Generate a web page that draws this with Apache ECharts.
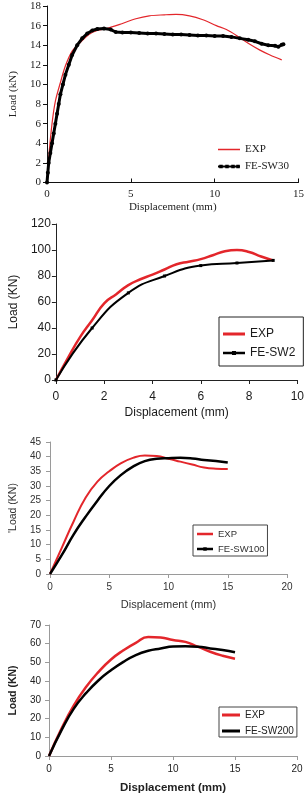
<!DOCTYPE html>
<html>
<head>
<meta charset="utf-8">
<script src="https://cdn.jsdelivr.net/npm/echarts@6/dist/echarts.min.js"></script>
<style>
html, body { margin: 0; padding: 0; background: #fff; }
#main { width: 307px; height: 796px; }
</style>
</head>
<body>
<div id="main"></div>
<script>
// panel 1 : FE-SW30
var sw30ExpX = [0, 0.1, 0.3, 0.5, 0.8, 1.1, 1.5, 2.0, 2.5, 3.0, 3.55, 4.3, 5.3, 6.1, 7.0, 7.7, 8.5, 9.3, 10.1, 10.7, 11.3, 12.0, 12.7, 13.3, 14.0];
var sw30ExpY = [0, 2.5, 6, 8.3, 10.2, 11.9, 13.4, 14.3, 15.1, 15.5, 15.7, 16.1, 16.7, 17.0, 17.1, 17.15, 17.0, 16.6, 16.0, 15.6, 15.0, 14.2, 13.5, 13.0, 12.5];
var sw30FeX = [0, 0.05, 0.1, 0.2, 0.3, 0.4, 0.5, 0.6, 0.7, 0.8, 0.95, 1.1, 1.3, 1.5, 1.8, 2.1, 2.4, 2.7, 3.0, 3.4, 3.8, 4.1, 4.5, 5.0, 5.5, 6.0, 6.5, 7.0, 7.5, 8.0, 8.5, 9.0, 9.5, 10.0, 10.5, 11.0, 11.5, 12.0, 12.4, 12.8, 13.2, 13.6, 13.8, 14.0, 14.1];
var sw30FeY = [0, 1, 2, 3, 4, 5, 6, 7, 8, 9, 10, 11, 12, 13, 14, 14.7, 15.2, 15.5, 15.65, 15.7, 15.6, 15.35, 15.3, 15.3, 15.25, 15.2, 15.2, 15.15, 15.1, 15.1, 15.05, 15.0, 15.0, 14.95, 14.95, 14.85, 14.7, 14.55, 14.4, 14.15, 14.0, 13.95, 13.85, 14.05, 14.1];

// panel 2 : FE-SW2
var sw2ExpX = [0, 0.5, 1, 1.5, 2, 2.5, 3, 3.5, 4, 4.5, 5, 5.5, 6, 6.5, 7, 7.5, 8, 8.5, 9];
var sw2ExpY = [0, 17, 33, 46, 59, 66, 73, 77.5, 81, 85, 89, 91, 93, 96, 99, 100, 98.5, 95, 92];
var sw2FeX = [0, 1.5, 3, 4.5, 6, 7.5, 9];
var sw2FeY = [0, 40, 67, 80, 88, 90, 92];

// panel 3 : FE-SW100
var sw100ExpX = [0, 1, 2, 3, 4, 5, 6, 7, 8, 9, 10, 11, 12, 13, 14, 15];
var sw100ExpY = [0, 9, 18, 26, 31.5, 35, 37.8, 39.6, 40.4, 40.2, 39.3, 38.3, 37.3, 36.3, 35.9, 35.8];
var sw100FeX = [0, 1, 2, 3, 4, 5, 6, 7, 8, 9, 10, 11, 12, 13, 14, 15];
var sw100FeY = [0, 6.5, 13.5, 19.5, 25, 30, 33.8, 36.6, 38.5, 39.3, 39.5, 39.6, 39.4, 38.9, 38.5, 38];

// panel 4 : FE-SW200
var sw200ExpX = [0, 1, 2, 3, 4, 5, 6, 7, 8, 9, 10, 11, 12, 13, 14, 15];
var sw200ExpY = [0, 14.5, 27, 37, 45, 51.6, 56.5, 60.5, 63.6, 63.3, 62, 61, 58.4, 55.7, 53.6, 52];
var sw200FeX = [0, 1, 2, 3, 4, 5, 6, 7, 8, 9, 10, 11, 12, 13, 14, 15];
var sw200FeY = [0, 13.7, 25.3, 33.7, 40.5, 45.8, 50.3, 53.9, 56.2, 57.4, 58.5, 58.6, 58.4, 57.5, 56.6, 55.4];

var serif = 'Liberation Serif';
var sans = 'Liberation Sans';
var red = '#e3262b';

// legend icons: a horizontal stroke (optionally with markers), corners pin the box size
function lineIcon(w, h, t, marker) {
    var y0 = (h - t) / 2;
    var p = 'path://M0,0H0.01V0.01H0Z M' + (w - 0.01) + ',' + (h - 0.01) + 'H' + w + 'V' + h + 'H' + (w - 0.01) + 'Z' +
        ' M0,' + y0 + 'H' + w + 'V' + (y0 + t) + 'H0Z';
    if (marker) {
        (marker.at || [w / 2]).forEach(function (cx) {
            var s = marker.size;
            p += ' M' + (cx - s / 2) + ',' + (h - s) / 2 + 'H' + (cx + s / 2) + 'V' + (h + s) / 2 + 'H' + (cx - s / 2) + 'Z';
        });
    }
    return p;
}

function pairs(xs, ys) {
    return xs.map(function (x, i) { return [x, ys[i]]; });
}

function xAxisOf(idx, max, step, font, size, nameSize, color, lineColor, gap, margin, bold, tickInside) {
    return {
        gridIndex: idx, type: 'value', min: 0, max: max, interval: step,
        name: 'Displacement (mm)', nameLocation: 'middle', nameGap: gap,
        nameTextStyle: { fontFamily: font, fontSize: nameSize, color: color, fontWeight: bold ? 'bold' : 'normal' },
        axisLine: { lineStyle: { color: lineColor, width: 1 } },
        axisTick: { show: true, inside: tickInside, length: 4, lineStyle: { color: lineColor } },
        axisLabel: { fontFamily: font, fontSize: size, color: color, margin: margin },
        splitLine: { show: false }
    };
}

function yAxisOf(idx, max, step, name, font, size, nameSize, color, lineColor, gap, margin, bold) {
    return {
        gridIndex: idx, type: 'value', min: 0, max: max, interval: step,
        name: name, nameLocation: 'middle', nameGap: gap,
        nameTextStyle: { fontFamily: font, fontSize: nameSize, color: color, fontWeight: bold ? 'bold' : 'normal' },
        axisLine: { show: true, lineStyle: { color: lineColor, width: 1 } },
        axisTick: { show: true, length: 4, lineStyle: { color: lineColor } },
        axisLabel: { fontFamily: font, fontSize: size, color: color, margin: margin },
        splitLine: { show: false }
    };
}

var myChart = echarts.init(document.getElementById('main'));
var option = {
    backgroundColor: '#fff',
    animation: false,
    grid: [
        { left: 47, top: 6, width: 253, height: 176.5 },
        { left: 47.5, top: 224, width: 252.5, height: 156 },
        { left: 44, top: 442, width: 243, height: 132 },
        { left: 42, top: 625, width: 255, height: 131 }
    ],
    xAxis: [
        xAxisOf(0, 15, 5, serif, 11, 11, '#222', '#111', 19, 6, false, true),
        xAxisOf(1, 10, 2, sans, 12, 12, '#1a1a1a', '#222', 27, 11, false, false),
        xAxisOf(2, 20, 5, sans, 10, 11, '#333', '#9a9a9a', 25, 8, false, false),
        xAxisOf(3, 20, 5, sans, 10, 11.5, '#222', '#9a9a9a', 26, 8, true, false)
    ],
    yAxis: [
        yAxisOf(0, 18, 2, 'Load (kN)', serif, 11, 11, '#222', '#111', 27, 6, false),
        yAxisOf(1, 120, 20, 'Load (KN)', sans, 12, 12, '#1a1a1a', '#222', 29, 5, false),
        yAxisOf(2, 45, 5, "'Load (KN)", sans, 10, 10.5, '#333', '#9a9a9a', 27, 9, false),
        yAxisOf(3, 70, 10, 'Load (KN)', sans, 10, 10.5, '#222', '#9a9a9a', 23, 8, true)
    ],
    legend: [
        {
            left: 213, top: 139, orient: 'vertical', itemWidth: 22, itemHeight: 6, itemGap: 6,
            data: [
                { name: 'EXP', icon: lineIcon(22, 6, 1.4), itemStyle: { color: red } },
                { name: 'FE-SW30', icon: lineIcon(22, 6, 2, { size: 3.5, at: [3, 9, 15, 20] }), itemStyle: { color: '#000' } }
            ],
            textStyle: { fontFamily: serif, fontSize: 11, color: '#222' }
        },
        {
            left: 219, top: 317, orient: 'vertical', itemWidth: 22, itemHeight: 10, itemGap: 7,
            padding: [11, 8, 7, 4], borderColor: '#222', borderWidth: 1,
            data: [
                { name: 'EXP', icon: lineIcon(22, 10, 3) },
                { name: 'FE-SW2', icon: lineIcon(22, 10, 2.5, { size: 4 }) }
            ],
            textStyle: { fontFamily: sans, fontSize: 12, color: '#1a1a1a' }
        },
        {
            left: 193, top: 525, orient: 'vertical', itemWidth: 16, itemHeight: 8, itemGap: 5,
            padding: [4, 3, 2, 4], borderColor: '#444', borderWidth: 1,
            data: [
                { name: 'EXP', icon: lineIcon(16, 8, 2.5) },
                { name: 'FE-SW100', icon: lineIcon(16, 8, 2.5, { size: 3.5 }) }
            ],
            textStyle: { fontFamily: sans, fontSize: 9.5, color: '#333' }
        },
        {
            left: 219, top: 707, orient: 'vertical', itemWidth: 18, itemHeight: 8, itemGap: 6,
            padding: [3, 3, 1, 3], borderColor: '#444', borderWidth: 1,
            data: [
                { name: 'EXP', icon: lineIcon(18, 8, 3) },
                { name: 'FE-SW200', icon: lineIcon(18, 8, 3) }
            ],
            textStyle: { fontFamily: sans, fontSize: 10, color: '#222' }
        }
    ],
    series: [
        {
            name: 'EXP', type: 'line', xAxisIndex: 0, yAxisIndex: 0,
            data: pairs(sw30ExpX, sw30ExpY), smooth: 0.3, symbol: 'none',
            lineStyle: { color: red, width: 1.2 }, itemStyle: { color: red }
        },
        {
            name: 'FE-SW30', type: 'line', xAxisIndex: 0, yAxisIndex: 0,
            data: pairs(sw30FeX, sw30FeY), symbol: 'circle', symbolSize: 4, showAllSymbol: true,
            lineStyle: { color: '#000', width: 3 }, itemStyle: { color: '#000' }
        },
        {
            name: 'EXP', type: 'line', xAxisIndex: 1, yAxisIndex: 1,
            data: pairs(sw2ExpX, sw2ExpY), smooth: true, symbol: 'none',
            lineStyle: { color: red, width: 2.5 }, itemStyle: { color: red }
        },
        {
            name: 'FE-SW2', type: 'line', xAxisIndex: 1, yAxisIndex: 1,
            data: pairs(sw2FeX, sw2FeY), smooth: true, symbol: 'rect', symbolSize: 3,
            lineStyle: { color: '#000', width: 2 }, itemStyle: { color: '#000' }
        },
        {
            name: 'EXP', type: 'line', xAxisIndex: 2, yAxisIndex: 2,
            data: pairs(sw100ExpX, sw100ExpY), smooth: true, symbol: 'none',
            lineStyle: { color: red, width: 2 }, itemStyle: { color: red }
        },
        {
            name: 'FE-SW100', type: 'line', xAxisIndex: 2, yAxisIndex: 2,
            data: pairs(sw100FeX, sw100FeY), smooth: true, symbol: 'none',
            lineStyle: { color: '#000', width: 2.5 }, itemStyle: { color: '#000' }
        },
        {
            name: 'EXP', type: 'line', xAxisIndex: 3, yAxisIndex: 3,
            data: pairs(sw200ExpX, sw200ExpY), smooth: true, symbol: 'none',
            lineStyle: { color: red, width: 2.5 }, itemStyle: { color: red }
        },
        {
            name: 'FE-SW200', type: 'line', xAxisIndex: 3, yAxisIndex: 3,
            data: pairs(sw200FeX, sw200FeY), smooth: true, symbol: 'none',
            lineStyle: { color: '#000', width: 2.5 }, itemStyle: { color: '#000' }
        }
    ]
};
myChart.setOption(option);
</script>
</body>
</html>
